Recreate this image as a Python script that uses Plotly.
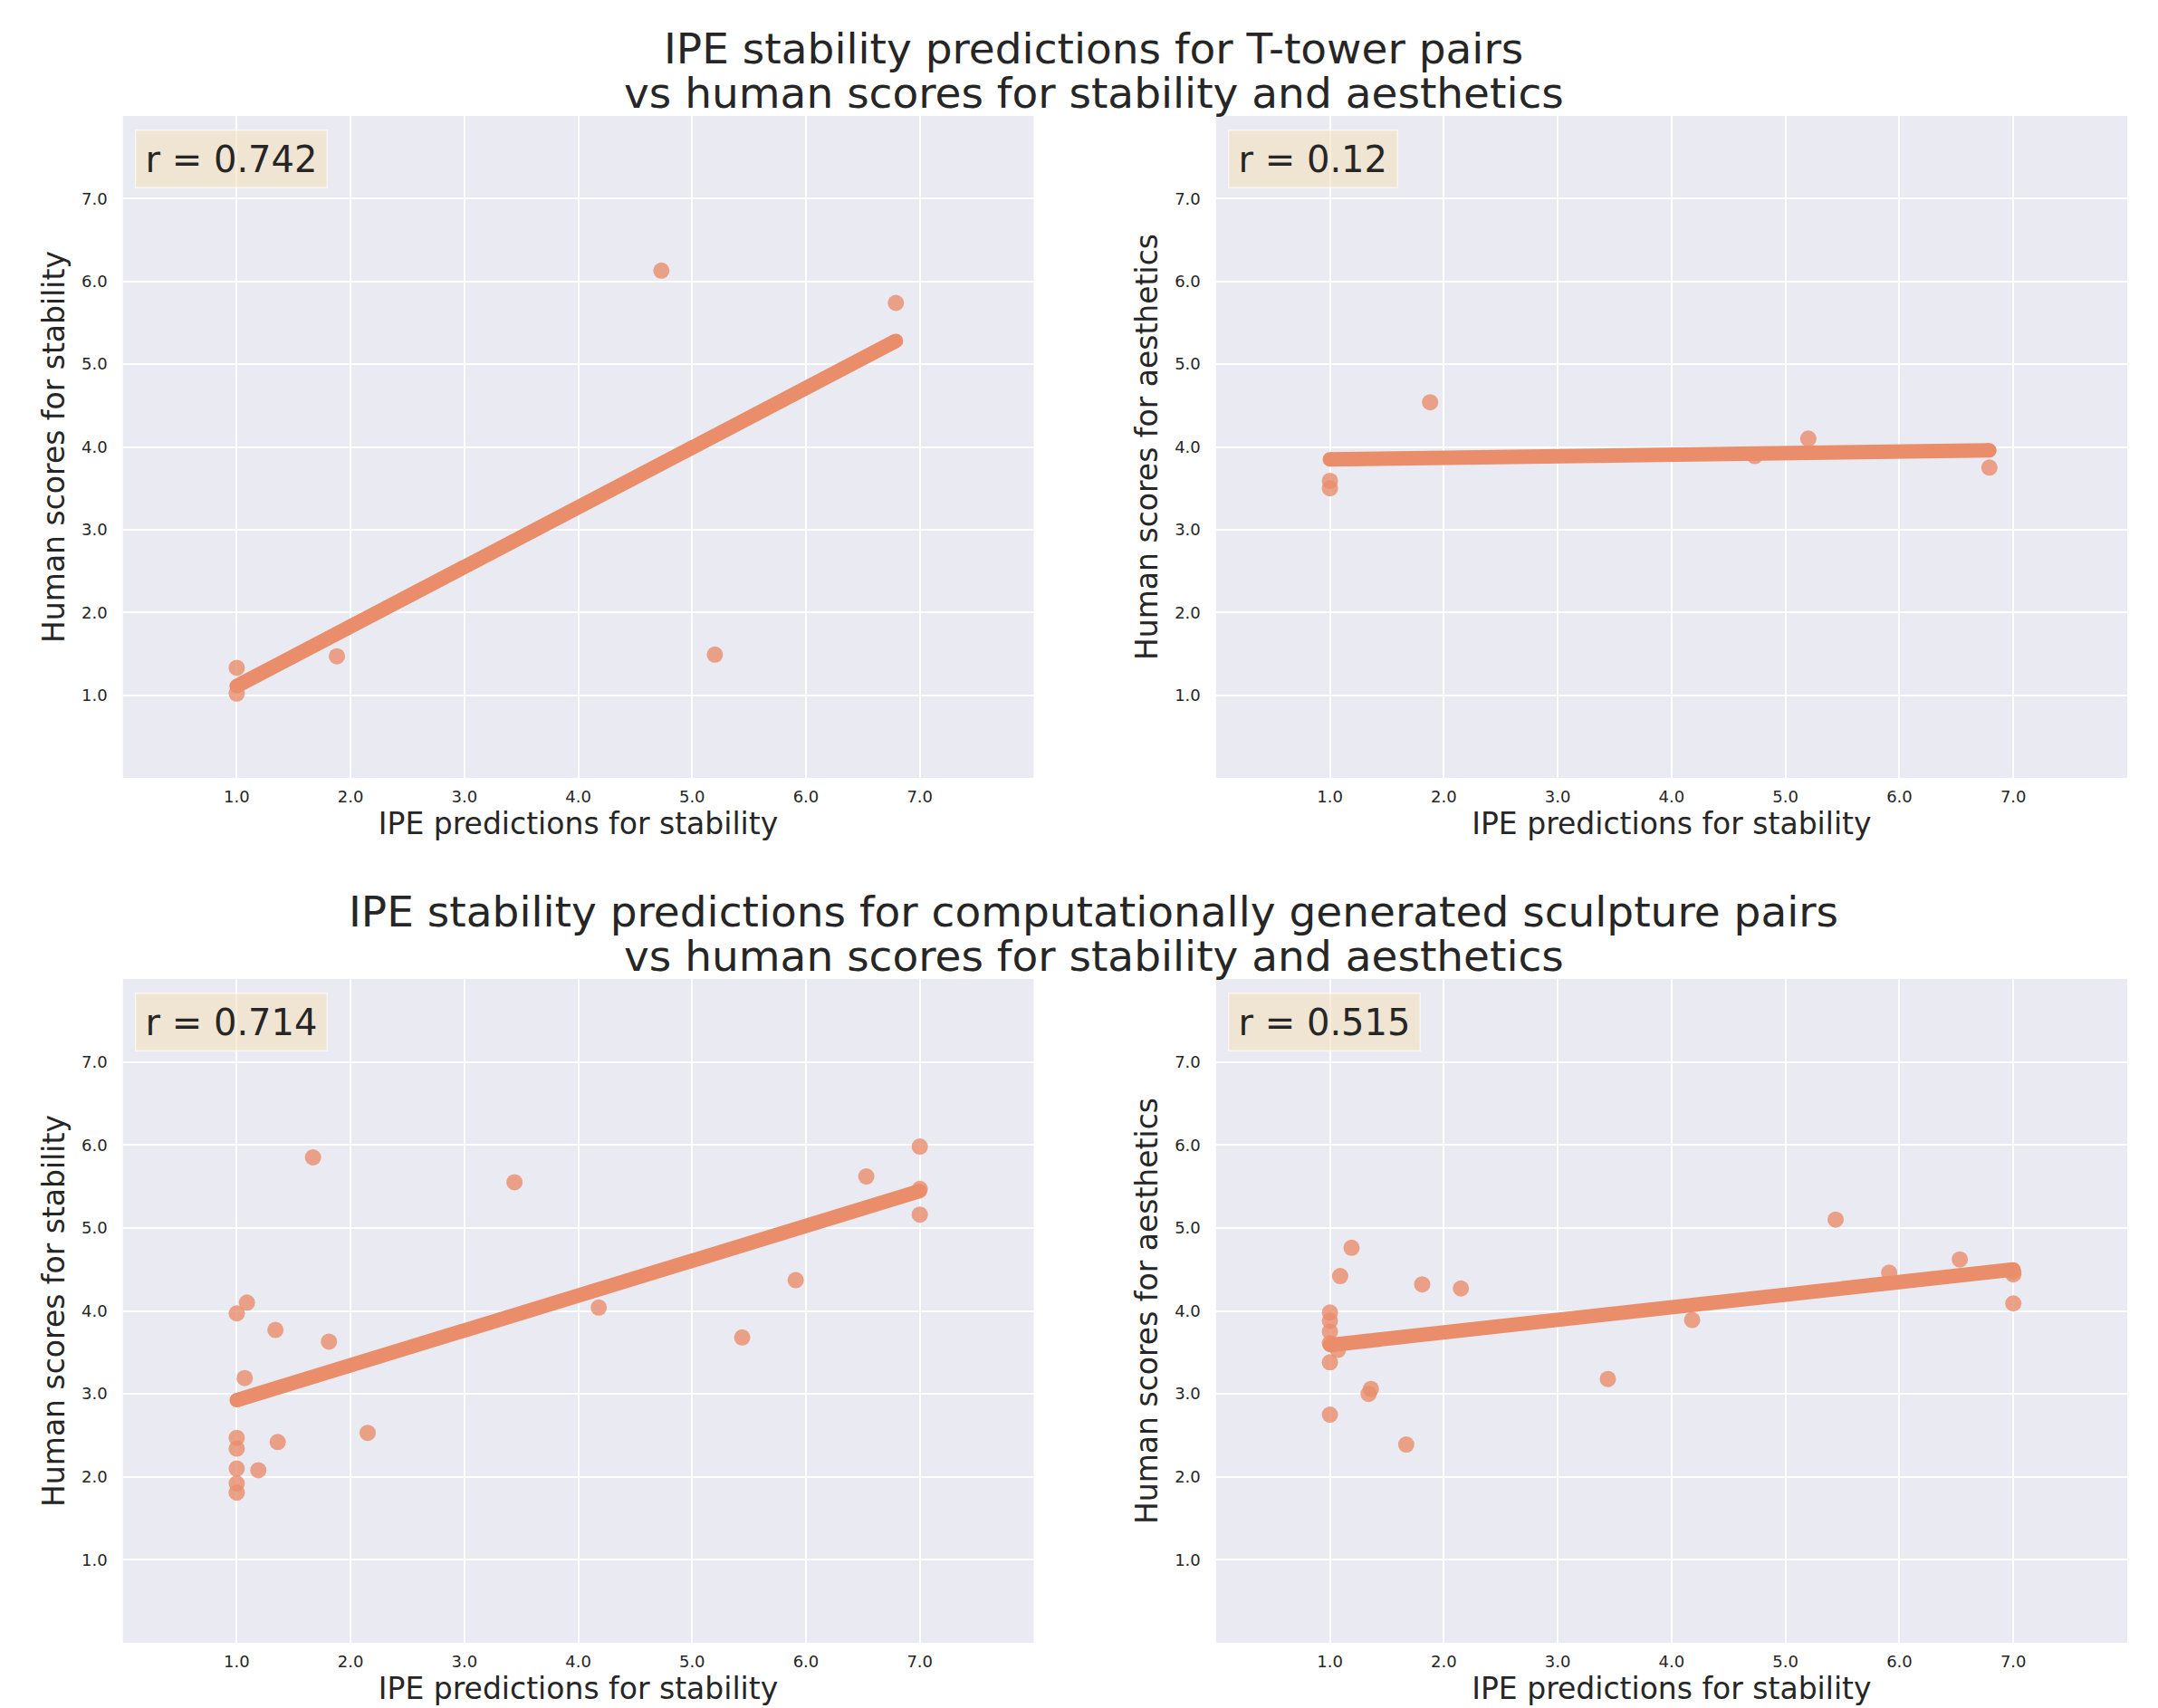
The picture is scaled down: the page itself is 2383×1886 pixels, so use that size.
import numpy as np
import plotly.graph_objects as go
from plotly.subplots import make_subplots

# ---------------- data ----------------
tower_ipe = [1.0, 1.0, 1.88, 4.73, 5.20, 6.79]
tower_stability = [1.33, 1.02, 1.47, 6.13, 1.49, 5.74]
tower_aesthetics = [3.59, 3.50, 4.54, 3.89, 4.10, 3.75]

sculpt_ipe = [7.0, 6.53, 7.0, 7.0, 1.67, 3.44, 5.91, 4.18, 5.44, 1.09, 1.0,
              1.34, 1.81, 1.07, 2.15, 1.0, 1.0, 1.36, 1.0, 1.19, 1.0, 1.0]
sculpt_stability = [5.98, 5.62, 5.47, 5.16, 5.85, 5.55, 4.37, 4.04, 3.68, 4.10, 3.97,
                    3.77, 3.63, 3.19, 2.53, 2.47, 2.34, 2.42, 2.10, 2.08, 1.92, 1.81]
sculpt_aesthetics = [4.47, 4.62, 4.44, 4.09, 2.39, 3.18, 4.46, 3.89, 5.10, 4.42, 3.98,
                     3.00, 4.32, 3.53, 4.27, 3.88, 3.75, 3.06, 3.61, 4.76, 3.38, 2.75]

r_labels = ["r = 0.742", "r = 0.12", "r = 0.714", "r = 0.515"]
tick_vals = [1, 2, 3, 4, 5, 6, 7]
title_top = ["IPE stability predictions for T-tower pairs",
             "vs human scores for stability and aesthetics"]
title_bottom = ["IPE stability predictions for computationally generated sculpture pairs",
                "vs human scores for stability and aesthetics"]
x_title = "IPE predictions for stability"
y_titles = ["Human scores for stability", "Human scores for aesthetics",
            "Human scores for stability", "Human scores for aesthetics"]

panels = [
    (tower_ipe, tower_stability),
    (tower_ipe, tower_aesthetics),
    (sculpt_ipe, sculpt_stability),
    (sculpt_ipe, sculpt_aesthetics),
]

# ---------------- style ----------------
W, H = 2383, 1886
FONT = "DejaVu Sans"
TXT = "#262626"
BG = "#EAEAF2"
LINE_C = "#E98D6A"
PT_C = "rgba(233,141,106,0.8)"

fig = make_subplots(rows=2, cols=2)

positions = [(1, 1), (1, 2), (2, 1), (2, 2)]
for i, ((xs, ys), (r, c)) in enumerate(zip(panels, positions)):
    xs_a = np.array(xs)
    ys_a = np.array(ys)
    fig.add_trace(go.Scatter(
        x=xs, y=ys, mode="markers",
        marker=dict(size=18, color=PT_C, line=dict(width=0)),
        showlegend=False, hoverinfo="x+y"), row=r, col=c)
    slope, icpt = np.polyfit(xs_a, ys_a, 1)
    fx = np.array([xs_a.min(), xs_a.max()])
    fy = slope * fx + icpt
    fig.add_trace(go.Scatter(
        x=fx, y=fy, mode="lines+markers",
        line=dict(color=LINE_C, width=16),
        marker=dict(size=16, color=LINE_C),
        showlegend=False, hoverinfo="skip"), row=r, col=c)

# domains (pixel measured -> paper fraction)
xd_left = [135.7 / W, 1141.4 / W]
xd_right = [1342.8 / W, 2349.0 / W]
yd_top = [(H - 859) / H, (H - 128) / H]
yd_bot = [(H - 1814) / H, (H - 1081) / H]

domains = [(xd_left, yd_top), (xd_right, yd_top), (xd_left, yd_bot), (xd_right, yd_bot)]

axis_common = dict(
    range=[0, 8], tickvals=tick_vals, tickformat=".1f",
    showgrid=True, gridcolor="white", gridwidth=2,
    zeroline=False, showline=False, ticks="",
    tickfont=dict(family=FONT, size=18, color=TXT),
    automargin=False,
)

for i, (xd, yd) in enumerate(domains):
    n = "" if i == 0 else str(i + 1)
    fig.layout["xaxis" + n].update(
        domain=xd, **axis_common, ticklabelstandoff=8,
        title=dict(text=x_title, font=dict(family=FONT, size=33, color=TXT), standoff=7))
    fig.layout["yaxis" + n].update(
        domain=yd, **axis_common, ticklabelstandoff=16,
        title=dict(text=y_titles[i], font=dict(family=FONT, size=33, color=TXT), standoff=8))
    box_w = 194 - 25.4 * (9 - len(r_labels[i]))
    fig.add_annotation(
        text=r_labels[i], xref=f"x{n} domain", yref=f"y{n} domain",
        x=0, y=1, xanchor="left", yanchor="top", xshift=13, yshift=-15,
        showarrow=False, font=dict(family=FONT, size=40, color=TXT),
        bgcolor="rgba(245,222,179,0.5)", bordercolor="rgba(255,255,255,0.6)",
        borderwidth=1.5, borderpad=8, width=box_w, align="center")

# titles, one annotation per line
cx = 1208 / W
for txt, ypx in zip(title_top + title_bottom, [53, 102, 1006, 1055]):
    fig.add_annotation(
        text=txt, xref="paper", yref="paper", x=cx, y=(H - ypx) / H,
        xanchor="center", yanchor="middle", showarrow=False,
        font=dict(family=FONT, size=47, color=TXT))

fig.update_layout(
    width=W, height=H,
    margin=dict(l=0, r=0, t=0, b=0),
    paper_bgcolor="white", plot_bgcolor=BG,
    font=dict(family=FONT, color=TXT),
    showlegend=False,
)

fig.write_html("out.html", config={"displayModeBar": False},
               post_script="document.body.style.margin='0';document.body.style.overflow='hidden';")
